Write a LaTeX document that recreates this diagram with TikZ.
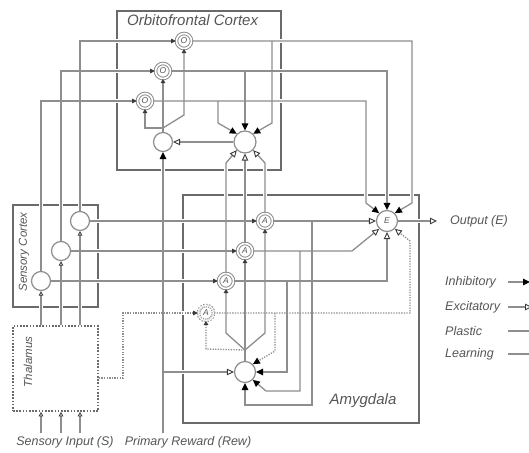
\documentclass[tikz,border=0pt]{standalone}
\usepackage{fontspec}
\setsansfont{Liberation Sans}
\usetikzlibrary{arrows.meta}
\pgfdeclarelayer{boxes}
\pgfdeclarelayer{halo}
\pgfsetlayers{boxes,halo,main}
\definecolor{lc}{HTML}{8E8E8E}
\definecolor{bc}{HTML}{6A6A6A}
\definecolor{tc}{HTML}{555555}
\definecolor{ac}{HTML}{3A3A3A}
\newcommand\cn[2]{%
  \begin{pgfonlayer}{halo}\draw[draw=white,line width=3.6pt] #2;\end{pgfonlayer}%
  \draw[#1] #2;}
\begin{document}
\begin{tikzpicture}[x=1pt,y=-1pt,
  ln/.style={draw=lc,line width=1.3pt},
  inh/.style={ln,-{Triangle[length=7pt,width=6.5pt,color=black]}},
  exc/.style={ln,-{Triangle[open,length=7pt,width=6.5pt,line width=0.9pt,color=ac]}},
  sexc/.style={ln,-{Triangle[open,length=4.5pt,width=4.5pt,line width=0.8pt,color=ac]}},
  pla/.style={ln,-{Triangle[length=5pt,width=4.5pt,color=ac]}},
  lrn/.style={ln,-{Triangle[length=4pt,width=4.5pt,color=ac]}},
  dotl/.style={dash pattern=on 1.3pt off 1.3pt},
  boxn/.style={draw=bc,line width=2.6pt,inner sep=0pt},
  pn/.style={circle,draw=lc,line width=1.2pt,fill=white,minimum size=19pt,inner sep=0pt,
    font=\fontsize{8.5}{8.5}\selectfont\sffamily\itshape,text=tc},
  dn/.style={circle,draw=lc,line width=1pt,double=white,double distance=1.6pt,fill=white,
    minimum size=15pt,inner sep=0pt,font=\fontsize{8.5}{8.5}\selectfont\sffamily\itshape,text=tc},
  lab/.style={font=\fontsize{12.5}{14}\selectfont\sffamily\itshape,text=tc,inner sep=0pt},
  big/.style={font=\fontsize{15}{17}\selectfont\sffamily\itshape,text=tc,inner sep=0pt}
]
\useasboundingbox (0,0) rectangle (529,452);

% ---------------- boxes
\begin{pgfonlayer}{boxes}
\node[boxn,minimum width=164pt,minimum height=159pt] (OFC) at (199,90.5) {};
\node[boxn,minimum width=85pt,minimum height=102pt] (SCB) at (55.5,256) {};
\node[draw=bc,line width=1.6pt,dash pattern=on 1.6pt off 1.6pt,minimum width=85pt,minimum height=85pt,inner sep=0pt] (T) at (55.5,368.5) {};
\node[boxn,minimum width=236pt,minimum height=228pt] (AMY) at (301,309) {};
\end{pgfonlayer}

% ---------------- labels
\node[big,anchor=west] (tofc) at (127,20) {Orbitofrontal Cortex};
\node[big] (tamy) at (363,401) {Amygdala};
\node[lab,rotate=90,font=\fontsize{11.5}{13}\selectfont\sffamily\itshape] (tsc) at (24,252) {Sensory Cortex};
\node[lab,rotate=90,font=\fontsize{11.5}{13}\selectfont\sffamily\itshape] (tth) at (28,362) {Thalamus};
\node[lab] (tsi) at (65,442) {Sensory Input (S)};
\node[lab] (trw) at (188,442) {Primary Reward (Rew)};
\node[lab,anchor=west] (tout) at (450,221) {Output (E)};

% ---------------- nodes
\node[dn] (O1) at (184,41) {O};
\node[dn] (O2) at (163,71) {O};
\node[dn] (O3) at (145,101) {O};
\node[pn] (S0) at (163,142) {};
\node[pn,minimum size=22pt] (B) at (245,142) {};
\node[pn] (SC1) at (80,221) {};
\node[pn] (SC2) at (61,251) {};
\node[pn] (SC3) at (41,281) {};
\node[dn] (A1) at (265,221) {A};
\node[dn] (A2) at (245,251) {A};
\node[dn] (A3) at (226,281) {A};
\node[dn,dash pattern=on 1.3pt off 1.3pt] (A4) at (206,313) {A};
\node[pn,minimum size=21pt] (E) at (387,221) {E};
\node[pn,minimum size=21pt] (M) at (245,372) {};

\coordinate (si1) at (41,433);
\coordinate (si2) at (61,433);
\coordinate (si3) at (80,433);
\coordinate (rw) at (163,433);
\coordinate (outp) at (437,221);

% ---------------- connectors
% sensory input to thalamus
\cn{sexc}{(si1) -- (si1 |- T.south)}
\cn{sexc}{(si2) -- (si2 |- T.south)}
\cn{sexc}{(si3) -- (si3 |- T.south)}
% thalamus to sensory cortex
\cn{sexc}{(T.north -| SC3) -- (SC3.south)}
\cn{sexc}{(T.north -| SC2) -- (SC2.south)}
\cn{sexc}{(T.north -| SC1) -- (SC1.south)}
% thalamus to A4 (dotted)
\cn{pla,dotl}{(T.east |- 0,378) -- (123,378) |- (A4.west)}
% sensory cortex to O nodes
\cn{pla}{(SC3.north) |- (O3.west)}
\cn{pla}{(SC2.north) |- (O2.west)}
\cn{pla}{(SC1.north) |- (O1.west)}
% sensory cortex to A nodes
\cn{pla}{(SC1.east) -- (A1.west)}
\cn{pla}{(SC2.east) -- (A2.west)}
\cn{pla}{(SC3.east) -- (A3.west)}
% O nodes to E
\cn{inh}{(O3.east) -- (366,101) -- (366,203) -- (E.north west)}
\cn{inh}{(O2.east) -| (E.north)}
\cn{inh}{(O1.east) -- (412,41) -- (412,203) -- (E.north east)}
% O lines to OFC node
\cn{inh}{(218,101) -- (218,123) -- (B.north west)}
\cn{inh}{(245,71) -- (B.north)}
\cn{inh}{(272,41) -- (272,123) -- (B.north east)}
% A nodes to OFC node
\cn{exc}{(A3.north) -- (226,163) -- (B.south west)}
\cn{exc}{(A2.north) -- (B.south)}
\cn{exc}{(A1.north) -- (265,163) -- (B.south east)}
% OFC node to S0
\cn{exc}{(B.west) -- (S0.east)}
% S0 learning to O nodes
\cn{ln}{(S0.north) -- (163,128) coordinate (j0)}
\cn{lrn}{(j0) -| (O3.south)}
\cn{lrn}{(j0) -- (O2.south)}
\cn{lrn}{(j0) -- (184,115) -- (O1.south)}
% primary reward
\cn{inh}{(rw) -- (S0.south)}
\cn{exc}{(163,372) -- (M.west)}
% A nodes to E
\cn{exc}{(A1.east) -- (E.west)}
\cn{exc}{(A2.east) -- (352,251) -- (E.south west)}
\cn{exc}{(A3.east) -| (E.south)}
\cn{exc,dotl}{(A4.east) -- (410,313) -- (410,241) -- (E.south east)}
% output
\cn{exc}{(E.east) -- (outp)}
% A lines to M
\cn{inh,dotl}{(275,313) -- (275,351) -- (M.north east)}
\cn{inh}{(287,281) |- (M.east)}
\cn{inh}{(300,251) -- (300,391) -- (266,391) -- (M.south east)}
\cn{inh}{(312,221) |- (245,405) -- (M.south)}
% M learning to A nodes
\cn{ln}{(M.north) -- (245,350) coordinate (j1)}
\cn{lrn}{(j1) -- (226,333) -- (A3.south)}
\cn{lrn}{(j1) -- (A2.south)}
\cn{lrn}{(j1) -- (265,333) -- (A1.south)}
\cn{lrn,dotl}{(j1) -- (206,349) -- (A4.south)}

% ---------------- legend
\node[lab,anchor=west] (l1) at (445,282) {Inhibitory};
\node[lab,anchor=west] (l2) at (445,307) {Excitatory};
\node[lab,anchor=west] (l3) at (445,331) {Plastic};
\node[lab,anchor=west] (l4) at (445,354) {Learning};
\coordinate (k1) at (508,282);
\coordinate (k2) at (508,307);
\coordinate (k3) at (508,331);
\coordinate (k4) at (508,354);
\draw[inh] (k1) -- ++(22,0);
\draw[exc] (k2) -- ++(24,0);
\draw[pla] (k3) -- ++(28,0);
\draw[lrn] (k4) -- ++(28,0);
\end{tikzpicture}
\end{document}
